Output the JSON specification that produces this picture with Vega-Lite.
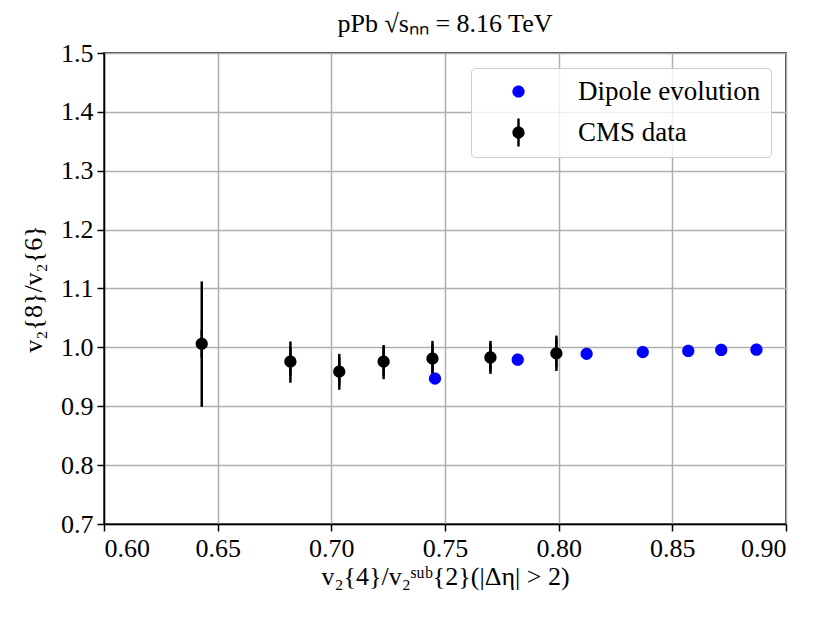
{
  "$schema": "https://vega.github.io/schema/vega-lite/v6.json",
  "width": 682,
  "height": 471,
  "autosize": {"type": "none"},
  "padding": {"left": 104, "top": 53, "right": 44, "bottom": 99},
  "config": {
    "font": "Liberation Serif",
    "view": {"stroke": "black", "strokeWidth": 1.5},
    "axis": {
      "labelFontSize": 26,
      "labelColor": "black",
      "labelFont": "Liberation Serif",
      "tickColor": "black",
      "tickSize": 7,
      "tickWidth": 1.5,
      "domainColor": "black",
      "domainWidth": 1.5,
      "gridColor": "#b0b0b0",
      "gridWidth": 1.5,
      "titleFontSize": 26,
      "titleFontWeight": "normal",
      "titleColor": "black",
      "titleFont": "Liberation Serif",
      "labelPadding": 4
    },
    "legend": {
      "labelFontSize": 27,
      "labelColor": "black",
      "labelFont": "Liberation Serif",
      "labelLimit": 0,
      "symbolSize": 150,
      "symbolStrokeWidth": 0
    }
  },
  "title": {
    "text": "pPb √sₙₙ = 8.16 TeV",
    "fontSize": 26,
    "fontWeight": "normal",
    "font": "Liberation Serif",
    "color": "black",
    "anchor": "middle",
    "offset": 3
  },
  "data": {
    "values": [
      {"x": 0.643, "y": 1.006, "lo": 0.899, "hi": 1.112, "series": "CMS data"},
      {"x": 0.682, "y": 0.976, "lo": 0.940, "hi": 1.010, "series": "CMS data"},
      {"x": 0.7035, "y": 0.959, "lo": 0.928, "hi": 0.989, "series": "CMS data"},
      {"x": 0.723, "y": 0.976, "lo": 0.946, "hi": 1.004, "series": "CMS data"},
      {"x": 0.7445, "y": 0.981, "lo": 0.951, "hi": 1.011, "series": "CMS data"},
      {"x": 0.770, "y": 0.983, "lo": 0.955, "hi": 1.011, "series": "CMS data"},
      {"x": 0.799, "y": 0.990, "lo": 0.960, "hi": 1.020, "series": "CMS data"},
      {"x": 0.7456, "y": 0.947, "series": "Dipole evolution"},
      {"x": 0.782, "y": 0.979, "series": "Dipole evolution"},
      {"x": 0.8123, "y": 0.989, "series": "Dipole evolution"},
      {"x": 0.837, "y": 0.992, "series": "Dipole evolution"},
      {"x": 0.857, "y": 0.994, "series": "Dipole evolution"},
      {"x": 0.8715, "y": 0.9956, "series": "Dipole evolution"},
      {"x": 0.887, "y": 0.996, "series": "Dipole evolution"}
    ]
  },
  "layer": [
    {
      "transform": [{"filter": "datum.series == 'CMS data'"}],
      "mark": {"type": "rule", "strokeWidth": 2.5, "color": "black"},
      "encoding": {
        "x": {"field": "x", "type": "quantitative"},
        "y": {"field": "lo", "type": "quantitative"},
        "y2": {"field": "hi"}
      }
    },
    {
      "mark": {"type": "point", "filled": true, "size": 150, "opacity": 1, "strokeWidth": 0},
      "encoding": {
        "x": {
          "field": "x",
          "type": "quantitative",
          "scale": {"domain": [0.6, 0.9], "nice": false, "zero": false},
          "axis": {
            "values": [0.6, 0.65, 0.7, 0.75, 0.8, 0.85, 0.9],
            "format": ".2f",
            "title": "v₂{4}/v₂ˢᵘᵇ{2}(|Δη| > 2)",
            "titlePadding": 2
          }
        },
        "y": {
          "field": "y",
          "type": "quantitative",
          "scale": {"domain": [0.7, 1.5], "nice": false, "zero": false},
          "axis": {
            "values": [0.7, 0.8, 0.9, 1.0, 1.1, 1.2, 1.3, 1.4, 1.5],
            "format": ".1f",
            "title": "v₂{8}/v₂{6}",
            "titlePadding": 14
          }
        },
        "color": {
          "field": "series",
          "type": "nominal",
          "scale": {"domain": ["Dipole evolution", "CMS data"], "range": ["#0000ff", "#000000"]},
          "legend": {
            "title": null,
            "orient": "top-right",
            "offset": 15,
            "padding": 10,
            "symbolOffset": 24,
            "labelOffset": 46,
            "rowPadding": 13,
            "strokeColor": "#cccccc",
            "cornerRadius": 4,
            "fillColor": "rgba(255,255,255,0.8)"
          }
        },
        "shape": {
          "field": "series",
          "type": "nominal",
          "scale": {
            "domain": ["Dipole evolution", "CMS data"],
            "range": ["M1,0A1,1 0 1,1 -1,0A1,1 0 1,1 1,0Z", "M-0.2,-2.3H0.2V2.3H-0.2Z M1,0A1,1 0 1,1 -1,0A1,1 0 1,1 1,0Z"]
          },
          "legend": {
            "title": null,
            "orient": "top-right",
            "offset": 15,
            "padding": 10,
            "symbolOffset": 24,
            "labelOffset": 46,
            "rowPadding": 13,
            "strokeColor": "#cccccc",
            "cornerRadius": 4,
            "fillColor": "rgba(255,255,255,0.8)"
          }
        }
      }
    }
  ]
}
